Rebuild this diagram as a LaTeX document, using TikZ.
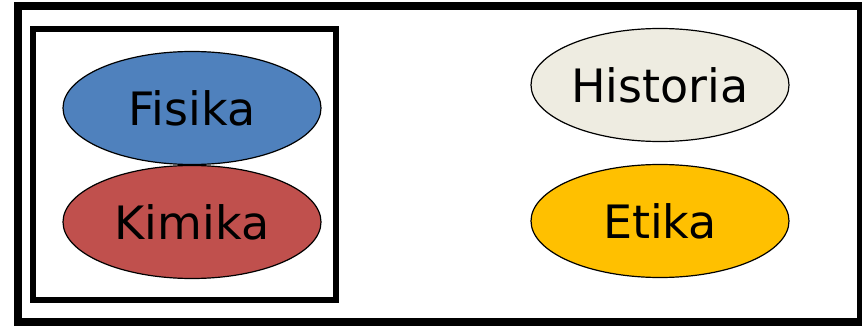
\documentclass[tikz,border=0pt]{standalone}
\usepackage{fontspec}
\setmainfont{DejaVu Sans}
\usetikzlibrary{shapes.geometric}
\definecolor{fisikablue}{HTML}{4F81BD}
\definecolor{kimikared}{HTML}{C0504D}
\definecolor{historiagray}{HTML}{EEECE1}
\definecolor{etikagold}{HTML}{FFC000}
\begin{document}
\begin{tikzpicture}[x=1pt,y=-1pt,
  subject/.style={ellipse, draw=black, line width=1.2pt, minimum width=258pt,
    minimum height=113pt, inner sep=0pt, font=\fontsize{46}{50}\selectfont}]
\useasboundingbox (0,0) rectangle (862,326);
\draw[line width=8pt] (18,6) rectangle (861,322);
\draw[line width=6pt] (33,29) rectangle (336,300);
\node[subject, fill=fisikablue] (fisika) at (192,108) {Fisika};
\node[subject, fill=kimikared] (kimika) at (192,222) {Kimika};
\node[subject, fill=historiagray] (historia) at (660,85) {Historia};
\node[subject, fill=etikagold] (etika) at (660,221) {Etika};
    \end{tikzpicture}
\end{document}
